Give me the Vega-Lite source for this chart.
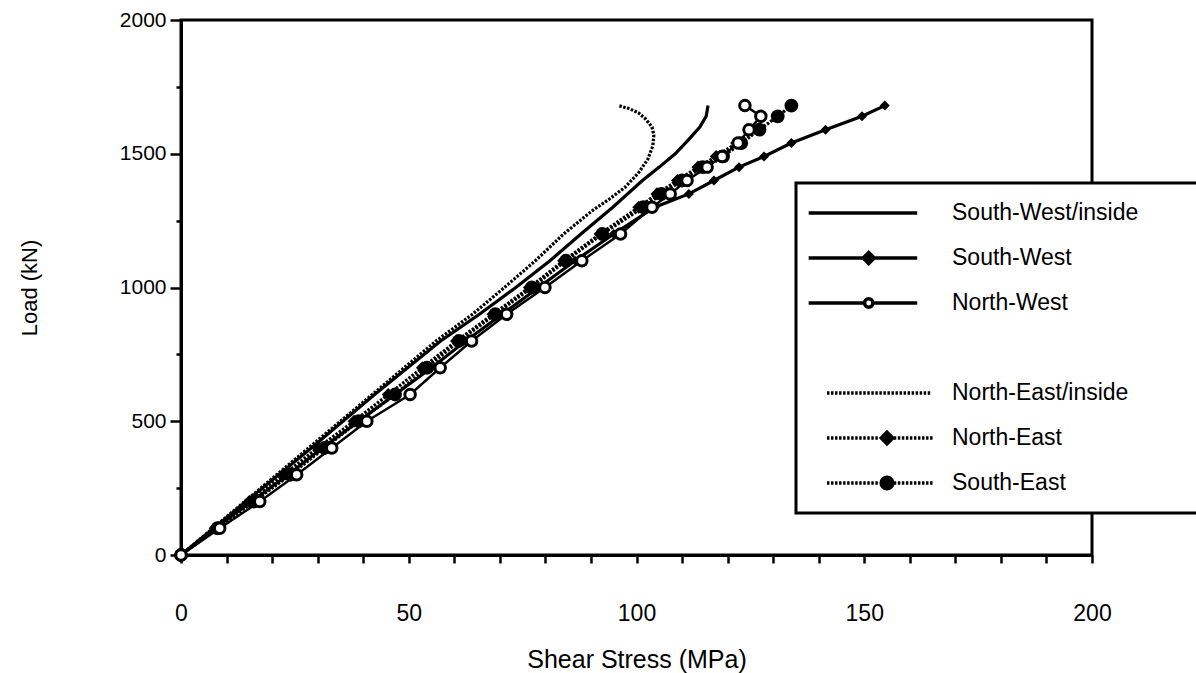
{
  "$schema": "https://vega.github.io/schema/vega-lite/v6.json",
  "autosize": {"type": "none"},
  "padding": {"left": 181, "top": 20, "right": 104, "bottom": 118},
  "width": 911,
  "height": 535,
  "background": "white",
  "config": {
    "font": "Liberation Sans",
    "view": {"stroke": "black", "strokeWidth": 3},
    "axis": {"domainColor": "black", "domainWidth": 3, "tickColor": "black", "tickWidth": 2.5, "labelColor": "black", "titleColor": "black", "labelFont": "Liberation Sans", "titleFont": "Liberation Sans", "titleFontWeight": "normal", "grid": false, "labelOverlap": false, "labelFlush": false},
    "legend": {"orient": "none", "legendX": 615, "legendY": 163, "strokeWidth": 3, "symbolOpacity": 1, "symbolStrokeWidth": 3.5}
  },
  "data": {"values": [
    {"series": "South-West/inside", "stress": 0, "load": 0},
    {"series": "South-West/inside", "stress": 7.2, "load": 100},
    {"series": "South-West/inside", "stress": 14.3, "load": 200},
    {"series": "South-West/inside", "stress": 28.6, "load": 400},
    {"series": "South-West/inside", "stress": 42.5, "load": 600},
    {"series": "South-West/inside", "stress": 57, "load": 800},
    {"series": "South-West/inside", "stress": 65.5, "load": 900},
    {"series": "South-West/inside", "stress": 73.5, "load": 1000},
    {"series": "South-West/inside", "stress": 81, "load": 1100},
    {"series": "South-West/inside", "stress": 87.8, "load": 1200},
    {"series": "South-West/inside", "stress": 94.8, "load": 1300},
    {"series": "South-West/inside", "stress": 101.3, "load": 1400},
    {"series": "South-West/inside", "stress": 105, "load": 1450},
    {"series": "South-West/inside", "stress": 108.5, "load": 1500},
    {"series": "South-West/inside", "stress": 111.3, "load": 1550},
    {"series": "South-West/inside", "stress": 113.9, "load": 1600},
    {"series": "South-West/inside", "stress": 115.3, "load": 1640},
    {"series": "South-West/inside", "stress": 115.7, "load": 1680},

    {"series": "North-East/inside", "stress": 0, "load": 0},
    {"series": "North-East/inside", "stress": 7, "load": 100},
    {"series": "North-East/inside", "stress": 14, "load": 200},
    {"series": "North-East/inside", "stress": 28, "load": 400},
    {"series": "North-East/inside", "stress": 42, "load": 600},
    {"series": "North-East/inside", "stress": 56, "load": 800},
    {"series": "North-East/inside", "stress": 64, "load": 900},
    {"series": "North-East/inside", "stress": 71, "load": 1000},
    {"series": "North-East/inside", "stress": 77.8, "load": 1100},
    {"series": "North-East/inside", "stress": 84, "load": 1200},
    {"series": "North-East/inside", "stress": 90.5, "load": 1290},
    {"series": "North-East/inside", "stress": 94, "load": 1330},
    {"series": "North-East/inside", "stress": 97.5, "load": 1375},
    {"series": "North-East/inside", "stress": 100.5, "load": 1430},
    {"series": "North-East/inside", "stress": 102.5, "load": 1480},
    {"series": "North-East/inside", "stress": 103.6, "load": 1530},
    {"series": "North-East/inside", "stress": 103.8, "load": 1570},
    {"series": "North-East/inside", "stress": 103.4, "load": 1600},
    {"series": "North-East/inside", "stress": 102, "load": 1630},
    {"series": "North-East/inside", "stress": 100.5, "load": 1652},
    {"series": "North-East/inside", "stress": 98.5, "load": 1668},
    {"series": "North-East/inside", "stress": 96, "load": 1680},

    {"series": "South-West", "stress": 0, "load": 0},
    {"series": "South-West", "stress": 7.5, "load": 100},
    {"series": "South-West", "stress": 15.5, "load": 200},
    {"series": "South-West", "stress": 23.5, "load": 300},
    {"series": "South-West", "stress": 31, "load": 400},
    {"series": "South-West", "stress": 39, "load": 500},
    {"series": "South-West", "stress": 47, "load": 600},
    {"series": "South-West", "stress": 55, "load": 700},
    {"series": "South-West", "stress": 62.5, "load": 800},
    {"series": "South-West", "stress": 70.5, "load": 900},
    {"series": "South-West", "stress": 78.5, "load": 1000},
    {"series": "South-West", "stress": 86.5, "load": 1100},
    {"series": "South-West", "stress": 95, "load": 1200},
    {"series": "South-West", "stress": 104, "load": 1300},
    {"series": "South-West", "stress": 111.5, "load": 1350},
    {"series": "South-West", "stress": 117, "load": 1400},
    {"series": "South-West", "stress": 122.5, "load": 1450},
    {"series": "South-West", "stress": 128, "load": 1490},
    {"series": "South-West", "stress": 134, "load": 1540},
    {"series": "South-West", "stress": 141.5, "load": 1590},
    {"series": "South-West", "stress": 149.5, "load": 1640},
    {"series": "South-West", "stress": 154.5, "load": 1680},

    {"series": "North-East", "stress": 0, "load": 0},
    {"series": "North-East", "stress": 7.5, "load": 100},
    {"series": "North-East", "stress": 15, "load": 200},
    {"series": "North-East", "stress": 22.5, "load": 300},
    {"series": "North-East", "stress": 30, "load": 400},
    {"series": "North-East", "stress": 38, "load": 500},
    {"series": "North-East", "stress": 45.5, "load": 600},
    {"series": "North-East", "stress": 53, "load": 700},
    {"series": "North-East", "stress": 60.5, "load": 800},
    {"series": "North-East", "stress": 68.5, "load": 900},
    {"series": "North-East", "stress": 76.5, "load": 1000},
    {"series": "North-East", "stress": 84, "load": 1100},
    {"series": "North-East", "stress": 92, "load": 1200},
    {"series": "North-East", "stress": 100.5, "load": 1300},
    {"series": "North-East", "stress": 104.5, "load": 1350},
    {"series": "North-East", "stress": 109, "load": 1400},
    {"series": "North-East", "stress": 113.5, "load": 1450},
    {"series": "North-East", "stress": 117.5, "load": 1490},
    {"series": "North-East", "stress": 122, "load": 1540},
    {"series": "North-East", "stress": 126.5, "load": 1590},

    {"series": "South-East", "stress": 0, "load": 0},
    {"series": "South-East", "stress": 8, "load": 100},
    {"series": "South-East", "stress": 16, "load": 200},
    {"series": "South-East", "stress": 24, "load": 300},
    {"series": "South-East", "stress": 31.5, "load": 400},
    {"series": "South-East", "stress": 39, "load": 500},
    {"series": "South-East", "stress": 47, "load": 600},
    {"series": "South-East", "stress": 54, "load": 700},
    {"series": "South-East", "stress": 61, "load": 800},
    {"series": "South-East", "stress": 69, "load": 900},
    {"series": "South-East", "stress": 77, "load": 1000},
    {"series": "South-East", "stress": 84.5, "load": 1100},
    {"series": "South-East", "stress": 92.5, "load": 1200},
    {"series": "South-East", "stress": 101.5, "load": 1300},
    {"series": "South-East", "stress": 105.5, "load": 1350},
    {"series": "South-East", "stress": 110, "load": 1400},
    {"series": "South-East", "stress": 114.5, "load": 1450},
    {"series": "South-East", "stress": 119, "load": 1490},
    {"series": "South-East", "stress": 123, "load": 1540},
    {"series": "South-East", "stress": 127, "load": 1590},
    {"series": "South-East", "stress": 131, "load": 1640},
    {"series": "South-East", "stress": 134, "load": 1680},

    {"series": "North-West", "stress": 0, "load": 0},
    {"series": "North-West", "stress": 8.5, "load": 100},
    {"series": "North-West", "stress": 17.3, "load": 200},
    {"series": "North-West", "stress": 25.4, "load": 300},
    {"series": "North-West", "stress": 33.1, "load": 400},
    {"series": "North-West", "stress": 40.8, "load": 500},
    {"series": "North-West", "stress": 50.3, "load": 600},
    {"series": "North-West", "stress": 56.9, "load": 700},
    {"series": "North-West", "stress": 63.8, "load": 800},
    {"series": "North-West", "stress": 71.5, "load": 900},
    {"series": "North-West", "stress": 79.9, "load": 1000},
    {"series": "North-West", "stress": 88, "load": 1100},
    {"series": "North-West", "stress": 96.5, "load": 1200},
    {"series": "North-West", "stress": 103.4, "load": 1300},
    {"series": "North-West", "stress": 107.4, "load": 1350},
    {"series": "North-West", "stress": 111.1, "load": 1400},
    {"series": "North-West", "stress": 115.5, "load": 1450},
    {"series": "North-West", "stress": 118.8, "load": 1490},
    {"series": "North-West", "stress": 122.3, "load": 1540},
    {"series": "North-West", "stress": 124.7, "load": 1590},
    {"series": "North-West", "stress": 127.3, "load": 1640},
    {"series": "North-West", "stress": 123.8, "load": 1680}
  ]},
  "encoding": {
    "x": {"field": "stress", "type": "quantitative", "scale": {"domain": [0, 200], "nice": false},
      "axis": {"values": [0,10,20,30,40,50,60,70,80,90,100,110,120,130,140,150,160,170,180,190,200], "labelExpr": "datum.value % 50 === 0 ? datum.label : ''", "format": "d", "tickSize": 8, "labelPadding": 39, "labelFontSize": 23, "title": "Shear Stress (MPa)", "titleFontSize": 25, "titlePadding": 22}},
    "y": {"field": "load", "type": "quantitative", "scale": {"domain": [0, 2000], "nice": false},
      "axis": {"values": [0,250,500,750,1000,1250,1500,1750,2000], "labelExpr": "datum.value % 500 === 0 ? datum.label : ''", "format": "d", "tickSize": {"condition": {"test": "datum.value % 500 === 0", "value": 11}, "value": 5}, "labelPadding": 4, "labelFontSize": 21, "title": "Load (kN)", "titleFontSize": 22, "titlePadding": 78}}
  },
  "layer": [
    {"transform": [{"filter": "datum.series === 'South-West/inside' || datum.series === 'South-West'"}],
     "mark": {"type": "line", "color": "black", "strokeWidth": 3.2},
     "encoding": {"detail": {"field": "series"}, "order": {"field": "load", "type": "quantitative"}}},
    {"transform": [{"filter": "datum.series === 'North-West'"}],
     "mark": {"type": "line", "color": "black", "strokeWidth": 2.4},
     "encoding": {"order": {"field": "load", "type": "quantitative"}}},
    {"transform": [{"filter": "datum.series === 'North-East/inside' || datum.series === 'North-East' || datum.series === 'South-East'"}],
     "mark": {"type": "line", "color": "black", "strokeWidth": 3.2, "strokeDash": [2.5, 1.5]},
     "encoding": {"detail": {"field": "series"}, "order": {"field": "load", "type": "quantitative"}}},
    {"transform": [{"filter": "datum.series === 'South-East'"}],
     "mark": {"type": "point", "shape": "circle", "filled": true, "color": "black", "size": 190, "opacity": 1}},
    {"transform": [{"filter": "datum.series === 'North-East'"}],
     "mark": {"type": "point", "shape": "diamond", "filled": true, "color": "black", "size": 170, "opacity": 1}},
    {"transform": [{"filter": "datum.series === 'South-West'"}],
     "mark": {"type": "point", "shape": "diamond", "filled": true, "color": "black", "size": 100, "opacity": 1}},
    {"transform": [{"filter": "datum.series === 'North-West'"}],
     "mark": {"type": "point", "shape": "circle", "filled": false, "fill": "white", "stroke": "black", "strokeWidth": 3, "size": 110, "opacity": 1}},
    {"transform": [{"filter": "false"}],
     "mark": {"type": "point", "filled": false, "color": "black", "stroke": "black", "strokeWidth": 3.5, "opacity": 1},
     "encoding": {
       "shape": {"field": "series", "type": "nominal",
         "scale": {"domain": ["South-West/inside", "South-West", "North-West", "\u2800\u2800\u2800\u2800\u2800\u2800\u2800\u2800\u2800\u2800\u2800\u2800\u2800\u2800\u2800\u2800\u2800\u2800\u2800\u2800\u2800\u2800", "North-East/inside", "North-East", "South-East"],
           "range": [
             "M-0.99,0H0.68",
             "M-0.99,0H-0.151M0.019,0H0.68M-0.066,-0.085L0.019,0L-0.066,0.085L-0.151,0Z",
             "M-0.99,0H-0.131M-0.001,0H0.68M-0.131,0A0.065,0.065 0 1,0 -0.001,0A0.065,0.065 0 1,0 -0.131,0Z",
             "M0,0L0,0",
             "M-0.708,0h0.038m0.024,0h0.038m0.024,0h0.038m0.024,0h0.038m0.024,0h0.038m0.024,0h0.038m0.024,0h0.038m0.024,0h0.038m0.024,0h0.038m0.024,0h0.038m0.024,0h0.038m0.024,0h0.038m0.024,0h0.038m0.024,0h0.038m0.024,0h0.038m0.024,0h0.038m0.024,0h0.038m0.024,0h0.038m0.024,0h0.038m0.024,0h0.038m0.024,0h0.038m0.024,0h0.038m0.024,0h0.038m0.024,0h0.038m0.024,0h0.038m0.024,0h0.038",
             "M-0.708,0h0.038m0.024,0h0.038m0.024,0h0.038m0.024,0h0.038m0.024,0h0.038m0.024,0h0.038m0.024,0h0.038m0.024,0h0.038m0.024,0h0.038m0.024,0h0.038m0.024,0h0.038m0.024,0h0.038m0.024,0h0.038M0.32,0h0.038m0.024,0h0.038m0.024,0h0.038m0.024,0h0.038m0.024,0h0.038m0.024,0h0.038m0.024,0h0.038m0.024,0h0.038m0.024,0h0.038m0.024,0h0.038M0.215,-0.088L0.303,0L0.215,0.088L0.127,0Z",
             "M-0.708,0h0.038m0.024,0h0.038m0.024,0h0.038m0.024,0h0.038m0.024,0h0.038m0.024,0h0.038m0.024,0h0.038m0.024,0h0.038m0.024,0h0.038m0.024,0h0.038m0.024,0h0.038m0.024,0h0.038m0.024,0h0.038M0.32,0h0.038m0.024,0h0.038m0.024,0h0.038m0.024,0h0.038m0.024,0h0.038m0.024,0h0.038m0.024,0h0.038m0.024,0h0.038m0.024,0h0.038m0.024,0h0.038M0.125,0A0.09,0.09 0 1,0 0.305,0A0.09,0.09 0 1,0 0.125,0Z"
           ]},
         "legend": {"title": null, "orient": "none", "legendX": 615, "legendY": 163, "symbolSize": 16900, "clipHeight": 40, "rowPadding": 5, "padding": 10, "labelOffset": 12, "labelFontSize": 23, "labelLimit": 500, "labelColor": "black", "labelFont": "Liberation Sans", "strokeColor": "black", "fillColor": "white", "symbolOpacity": 1, "symbolStrokeWidth": 3.5}},
       "fill": {"field": "series", "type": "nominal",
         "scale": {"domain": ["South-West/inside", "South-West", "North-West", "\u2800\u2800\u2800\u2800\u2800\u2800\u2800\u2800\u2800\u2800\u2800\u2800\u2800\u2800\u2800\u2800\u2800\u2800\u2800\u2800\u2800\u2800", "North-East/inside", "North-East", "South-East"],
           "range": ["black", "black", "white", "white", "black", "black", "black"]},
         "legend": {"title": null, "orient": "none", "legendX": 615, "legendY": 163, "symbolSize": 16900, "clipHeight": 40, "rowPadding": 5, "padding": 10, "labelOffset": 12, "labelFontSize": 23, "labelLimit": 500, "labelColor": "black", "labelFont": "Liberation Sans", "strokeColor": "black", "fillColor": "white", "symbolOpacity": 1, "symbolStrokeWidth": 3.5}}
     }}
  ]
}
